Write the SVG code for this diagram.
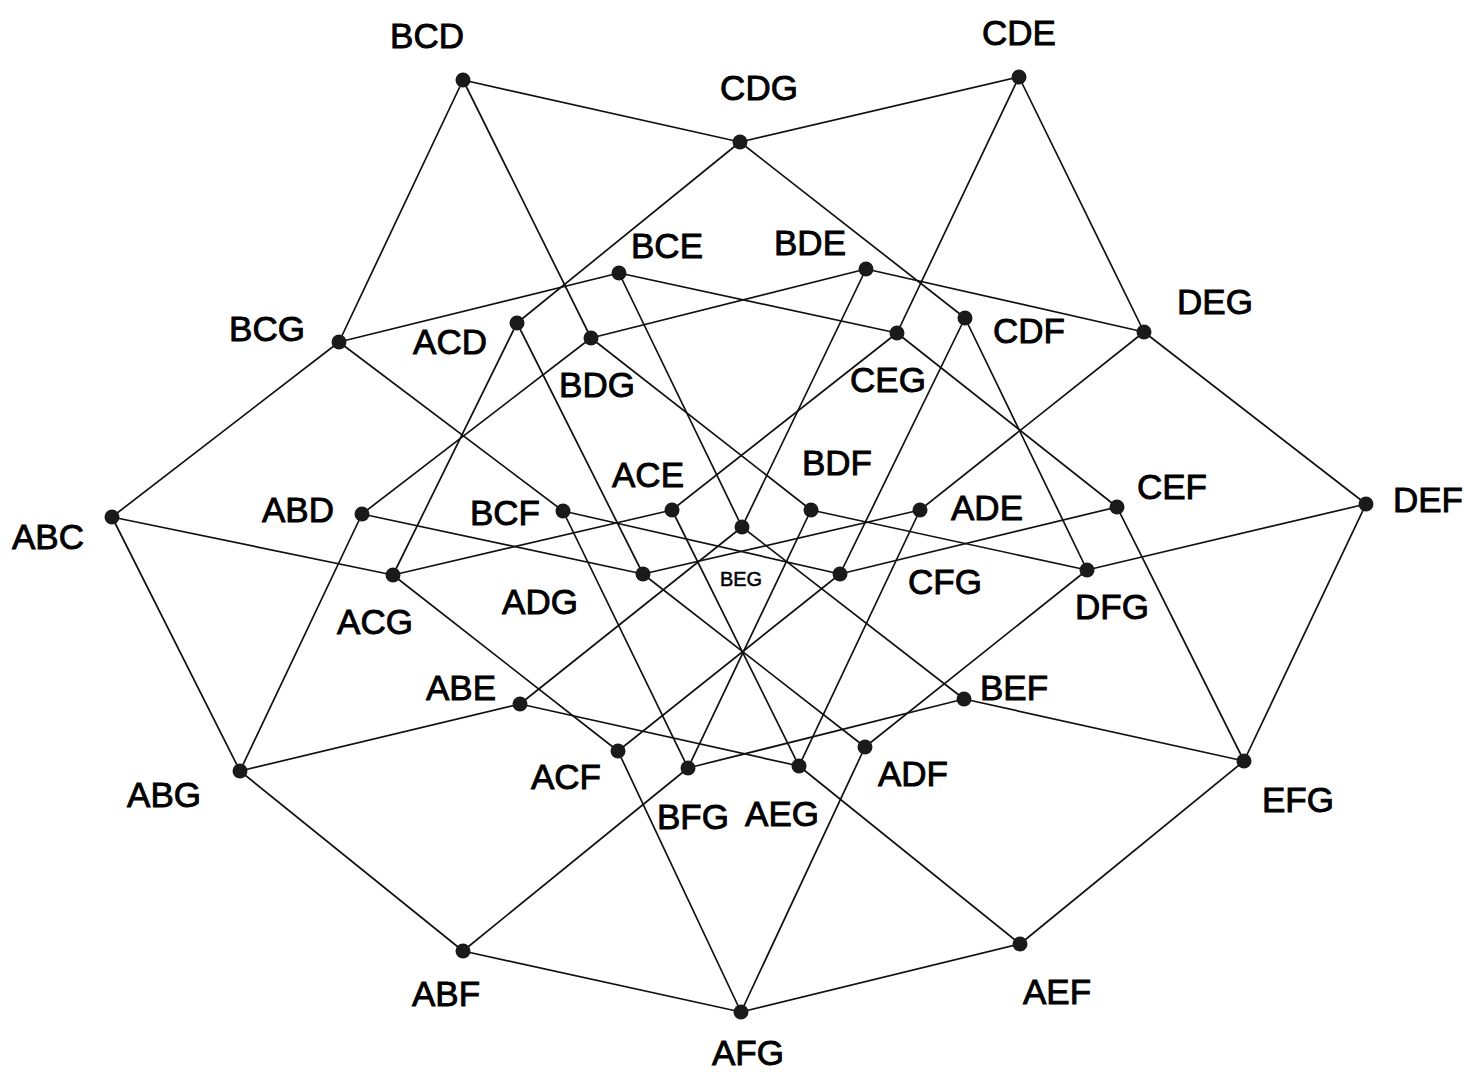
<svg xmlns="http://www.w3.org/2000/svg" width="1464" height="1072" viewBox="0 0 1464 1072">
<style>
.e line{stroke:#111;stroke-width:1.7;stroke-linecap:round}
.n circle{fill:#1a1a1a}
.n text{font-family:"Liberation Sans",Arial,sans-serif;font-size:35px;fill:#000;stroke:#000;stroke-width:0.9;text-anchor:middle}
.n text.s{font-size:20px;stroke-width:0.5}
</style>
<rect width="1464" height="1072" fill="#fff"/>
<g id="connectors" class="e">
<line x1="463" y1="80" x2="339" y2="342"/>
<line x1="463" y1="80" x2="591" y2="338"/>
<line x1="463" y1="80" x2="740" y2="142"/>
<line x1="1019" y1="77" x2="740" y2="142"/>
<line x1="1019" y1="77" x2="897" y2="333"/>
<line x1="1019" y1="77" x2="1144" y2="332"/>
<line x1="619" y1="273" x2="339" y2="342"/>
<line x1="619" y1="273" x2="742" y2="527"/>
<line x1="619" y1="273" x2="897" y2="333"/>
<line x1="517" y1="323" x2="393" y2="575"/>
<line x1="517" y1="323" x2="643" y2="574"/>
<line x1="517" y1="323" x2="740" y2="142"/>
<line x1="866" y1="269" x2="591" y2="338"/>
<line x1="866" y1="269" x2="742" y2="527"/>
<line x1="866" y1="269" x2="1144" y2="332"/>
<line x1="965" y1="318" x2="740" y2="142"/>
<line x1="965" y1="318" x2="840" y2="574"/>
<line x1="965" y1="318" x2="1087" y2="570"/>
<line x1="112" y1="517" x2="240" y2="771"/>
<line x1="112" y1="517" x2="393" y2="575"/>
<line x1="112" y1="517" x2="339" y2="342"/>
<line x1="362" y1="514" x2="240" y2="771"/>
<line x1="362" y1="514" x2="643" y2="574"/>
<line x1="362" y1="514" x2="591" y2="338"/>
<line x1="563" y1="511" x2="339" y2="342"/>
<line x1="563" y1="511" x2="688" y2="768"/>
<line x1="563" y1="511" x2="840" y2="574"/>
<line x1="672" y1="510" x2="393" y2="575"/>
<line x1="672" y1="510" x2="799" y2="766"/>
<line x1="672" y1="510" x2="897" y2="333"/>
<line x1="811" y1="510" x2="591" y2="338"/>
<line x1="811" y1="510" x2="688" y2="768"/>
<line x1="811" y1="510" x2="1087" y2="570"/>
<line x1="920" y1="510" x2="643" y2="574"/>
<line x1="920" y1="510" x2="799" y2="766"/>
<line x1="920" y1="510" x2="1144" y2="332"/>
<line x1="1117" y1="507" x2="897" y2="333"/>
<line x1="1117" y1="507" x2="840" y2="574"/>
<line x1="1117" y1="507" x2="1244" y2="761"/>
<line x1="1366" y1="504" x2="1144" y2="332"/>
<line x1="1366" y1="504" x2="1087" y2="570"/>
<line x1="1366" y1="504" x2="1244" y2="761"/>
<line x1="520" y1="704" x2="240" y2="771"/>
<line x1="520" y1="704" x2="799" y2="766"/>
<line x1="520" y1="704" x2="742" y2="527"/>
<line x1="964" y1="699" x2="742" y2="527"/>
<line x1="964" y1="699" x2="688" y2="768"/>
<line x1="964" y1="699" x2="1244" y2="761"/>
<line x1="618" y1="751" x2="393" y2="575"/>
<line x1="618" y1="751" x2="741" y2="1012"/>
<line x1="618" y1="751" x2="840" y2="574"/>
<line x1="865" y1="747" x2="643" y2="574"/>
<line x1="865" y1="747" x2="741" y2="1012"/>
<line x1="865" y1="747" x2="1087" y2="570"/>
<line x1="463" y1="951" x2="240" y2="771"/>
<line x1="463" y1="951" x2="741" y2="1012"/>
<line x1="463" y1="951" x2="688" y2="768"/>
<line x1="1020" y1="944" x2="799" y2="766"/>
<line x1="1020" y1="944" x2="741" y2="1012"/>
<line x1="1020" y1="944" x2="1244" y2="761"/>
</g>
<g id="BCD" class="n"><circle cx="463" cy="80" r="7.5"/><text x="427" y="48">BCD</text></g>
<g id="CDG" class="n"><circle cx="740" cy="142" r="7.5"/><text x="759" y="100">CDG</text></g>
<g id="CDE" class="n"><circle cx="1019" cy="77" r="7.5"/><text x="1019" y="45">CDE</text></g>
<g id="BCE" class="n"><circle cx="619" cy="273" r="7.5"/><text x="667" y="258">BCE</text></g>
<g id="ACD" class="n"><circle cx="517" cy="323" r="7.5"/><text x="450" y="354">ACD</text></g>
<g id="BDG" class="n"><circle cx="591" cy="338" r="7.5"/><text x="597" y="397">BDG</text></g>
<g id="BDE" class="n"><circle cx="866" cy="269" r="7.5"/><text x="810" y="255">BDE</text></g>
<g id="CEG" class="n"><circle cx="897" cy="333" r="7.5"/><text x="888" y="392">CEG</text></g>
<g id="CDF" class="n"><circle cx="965" cy="318" r="7.5"/><text x="1029" y="343">CDF</text></g>
<g id="DEG" class="n"><circle cx="1144" cy="332" r="7.5"/><text x="1215" y="314">DEG</text></g>
<g id="BCG" class="n"><circle cx="339" cy="342" r="7.5"/><text x="267" y="341">BCG</text></g>
<g id="ABC" class="n"><circle cx="112" cy="517" r="7.5"/><text x="48" y="549">ABC</text></g>
<g id="ABD" class="n"><circle cx="362" cy="514" r="7.5"/><text x="298" y="522">ABD</text></g>
<g id="BCF" class="n"><circle cx="563" cy="511" r="7.5"/><text x="505" y="525">BCF</text></g>
<g id="ACE" class="n"><circle cx="672" cy="510" r="7.5"/><text x="648" y="487">ACE</text></g>
<g id="ACG" class="n"><circle cx="393" cy="575" r="7.5"/><text x="375" y="634">ACG</text></g>
<g id="ADG" class="n"><circle cx="643" cy="574" r="7.5"/><text x="540" y="614">ADG</text></g>
<g id="ABE" class="n"><circle cx="520" cy="704" r="7.5"/><text x="461" y="700">ABE</text></g>
<g id="BDF" class="n"><circle cx="811" cy="510" r="7.5"/><text x="837" y="475">BDF</text></g>
<g id="ADE" class="n"><circle cx="920" cy="510" r="7.5"/><text x="987" y="520">ADE</text></g>
<g id="BEG" class="n"><circle cx="742" cy="527" r="7.5"/><text class="s" x="741" y="586">BEG</text></g>
<g id="CFG" class="n"><circle cx="840" cy="574" r="7.5"/><text x="945" y="594">CFG</text></g>
<g id="DFG" class="n"><circle cx="1087" cy="570" r="7.5"/><text x="1112" y="619">DFG</text></g>
<g id="BEF" class="n"><circle cx="964" cy="699" r="7.5"/><text x="1014" y="700">BEF</text></g>
<g id="CEF" class="n"><circle cx="1117" cy="507" r="7.5"/><text x="1172" y="499">CEF</text></g>
<g id="DEF" class="n"><circle cx="1366" cy="504" r="7.5"/><text x="1428" y="512">DEF</text></g>
<g id="ABG" class="n"><circle cx="240" cy="771" r="7.5"/><text x="164" y="807">ABG</text></g>
<g id="ACF" class="n"><circle cx="618" cy="751" r="7.5"/><text x="566" y="789">ACF</text></g>
<g id="BFG" class="n"><circle cx="688" cy="768" r="7.5"/><text x="693" y="829">BFG</text></g>
<g id="ABF" class="n"><circle cx="463" cy="951" r="7.5"/><text x="446" y="1006">ABF</text></g>
<g id="AEG" class="n"><circle cx="799" cy="766" r="7.5"/><text x="782" y="826">AEG</text></g>
<g id="ADF" class="n"><circle cx="865" cy="747" r="7.5"/><text x="913" y="786">ADF</text></g>
<g id="AEF" class="n"><circle cx="1020" cy="944" r="7.5"/><text x="1057" y="1004">AEF</text></g>
<g id="AFG" class="n"><circle cx="741" cy="1012" r="7.5"/><text x="748" y="1065">AFG</text></g>
<g id="EFG" class="n"><circle cx="1244" cy="761" r="7.5"/><text x="1298" y="812">EFG</text></g>
</svg>
